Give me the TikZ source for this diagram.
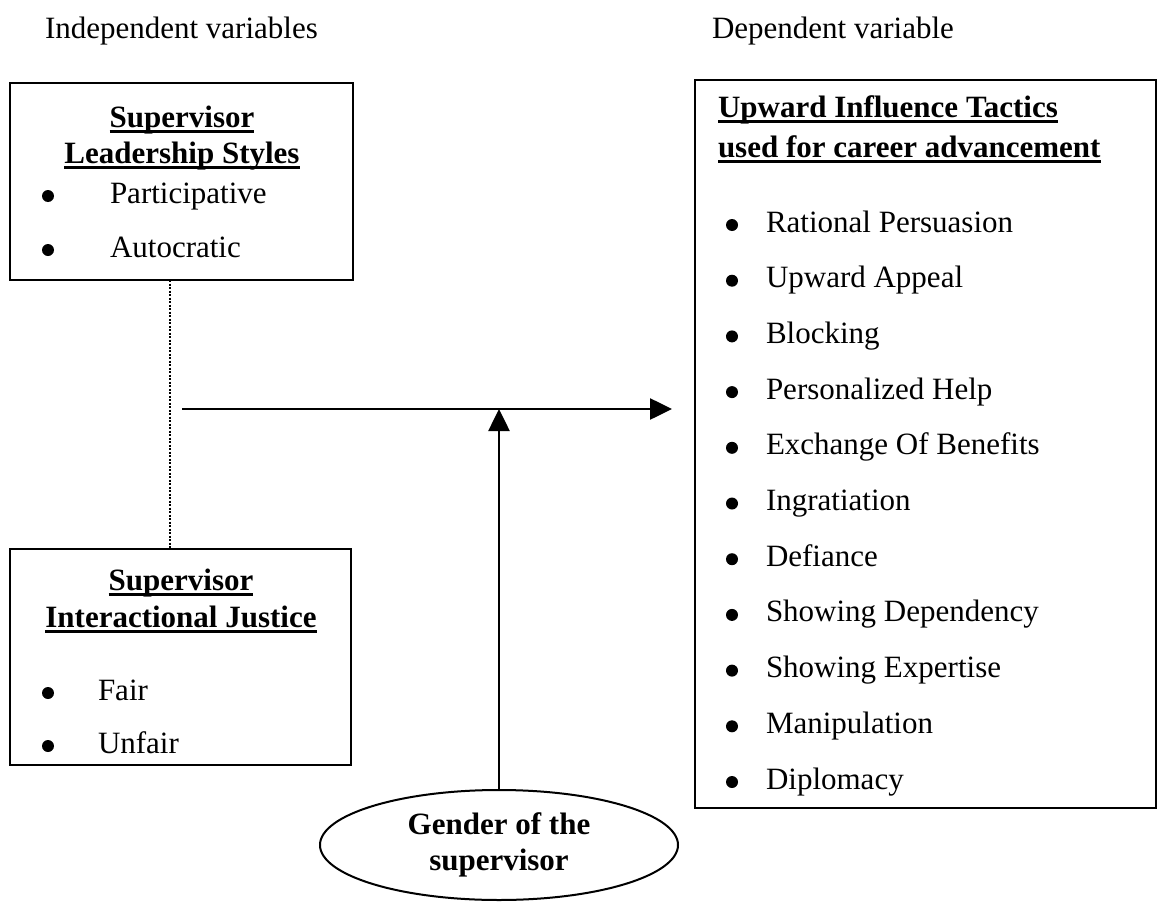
\documentclass[tikz,border=0pt]{standalone}
\usepackage{fontspec}
\setmainfont{Liberation Serif}
\usetikzlibrary{shapes.geometric,arrows.meta}
% bold text with a rule drawn just under the baseline
\newcommand{\ulbf}[1]{\setbox0\hbox{\bfseries #1}\rlap{\rule[-0.19em]{\wd0}{0.08em}}\box0}
\begin{document}
\begin{tikzpicture}[x=1pt,y=-1pt,
  every node/.style={inner sep=0pt, outer sep=0pt, font=\fontsize{31}{37}\selectfont},
  frame/.style={draw, line width=2.4pt, anchor=north west},
  item/.style={anchor=base west},
  dot/.style={circle, fill, minimum size=12pt},
  link/.style={line width=2.6pt, -{Triangle[length=22pt,width=21pt]}},
  dotline/.style={line width=2.6pt, dash pattern=on 2pt off 1.5pt}]
\useasboundingbox (0,0) rectangle (1157,902);

% column headings
\node[anchor=base west] (indep) at (45,38) {Independent variables};
\node[anchor=base west] (dep) at (712,38) {Dependent variable};

% frames
\node[frame, minimum width=343pt, minimum height=197pt] (lead) at (10,83) {};
\node[frame, minimum width=341pt, minimum height=216pt] (just) at (10,549) {};
\node[frame, minimum width=461pt, minimum height=728pt] (tactics) at (695,80) {};

% leadership styles
\node[anchor=base] (leadA) at (182,127) {\ulbf{Supervisor}};
\node[anchor=base] (leadB) at (182,163) {\ulbf{Leadership Styles}};
\node[dot] (leadD1) at (48,196) {};
\node[item] (leadI1) at (110,203) {Participative};
\node[dot] (leadD2) at (48,250) {};
\node[item] (leadI2) at (110,257) {Autocratic};

% interactional justice
\node[anchor=base] (justA) at (181,590) {\ulbf{Supervisor}};
\node[anchor=base] (justB) at (181,627) {\ulbf{Interactional Justice}};
\node[dot] (justD1) at (48,693) {};
\node[item] (justI1) at (98,700) {Fair};
\node[dot] (justD2) at (48,746) {};
\node[item] (justI2) at (98,753) {Unfair};

% influence tactics
\node[item] (tacA) at (718,117) {\ulbf{Upward Influence Tactics}};
\node[item] (tacB) at (718,157) {\ulbf{used for career advancement}};
\foreach \t [count=\k from 0] in {Rational Persuasion, Upward Appeal, Blocking,
    Personalized Help, Exchange Of Benefits, Ingratiation, Defiance,
    Showing Dependency, Showing Expertise, Manipulation, Diplomacy} {
  \node[dot] (tacD\k) at (732,225+\k*55.7) {};
  \node[item] (tacI\k) at (766,232+\k*55.7) {\t};
}

% moderator
\node[draw, ellipse, line width=2pt, minimum width=358pt, minimum height=110pt,
      align=center, font=\fontsize{31}{36}\selectfont\bfseries] (gender) at (499,845)
      {Gender of the\\supervisor};

% connectors
\coordinate (dotx) at (170,409);
\coordinate (hstart) at (182,409);
\coordinate (htip) at (672,409);
\draw[dotline] (lead.south -| dotx) -- (just.north -| dotx);
\draw[link] (hstart) -- (htip);
\draw[link] (gender.north) -- (gender.north |- htip);
\end{tikzpicture}
\end{document}
